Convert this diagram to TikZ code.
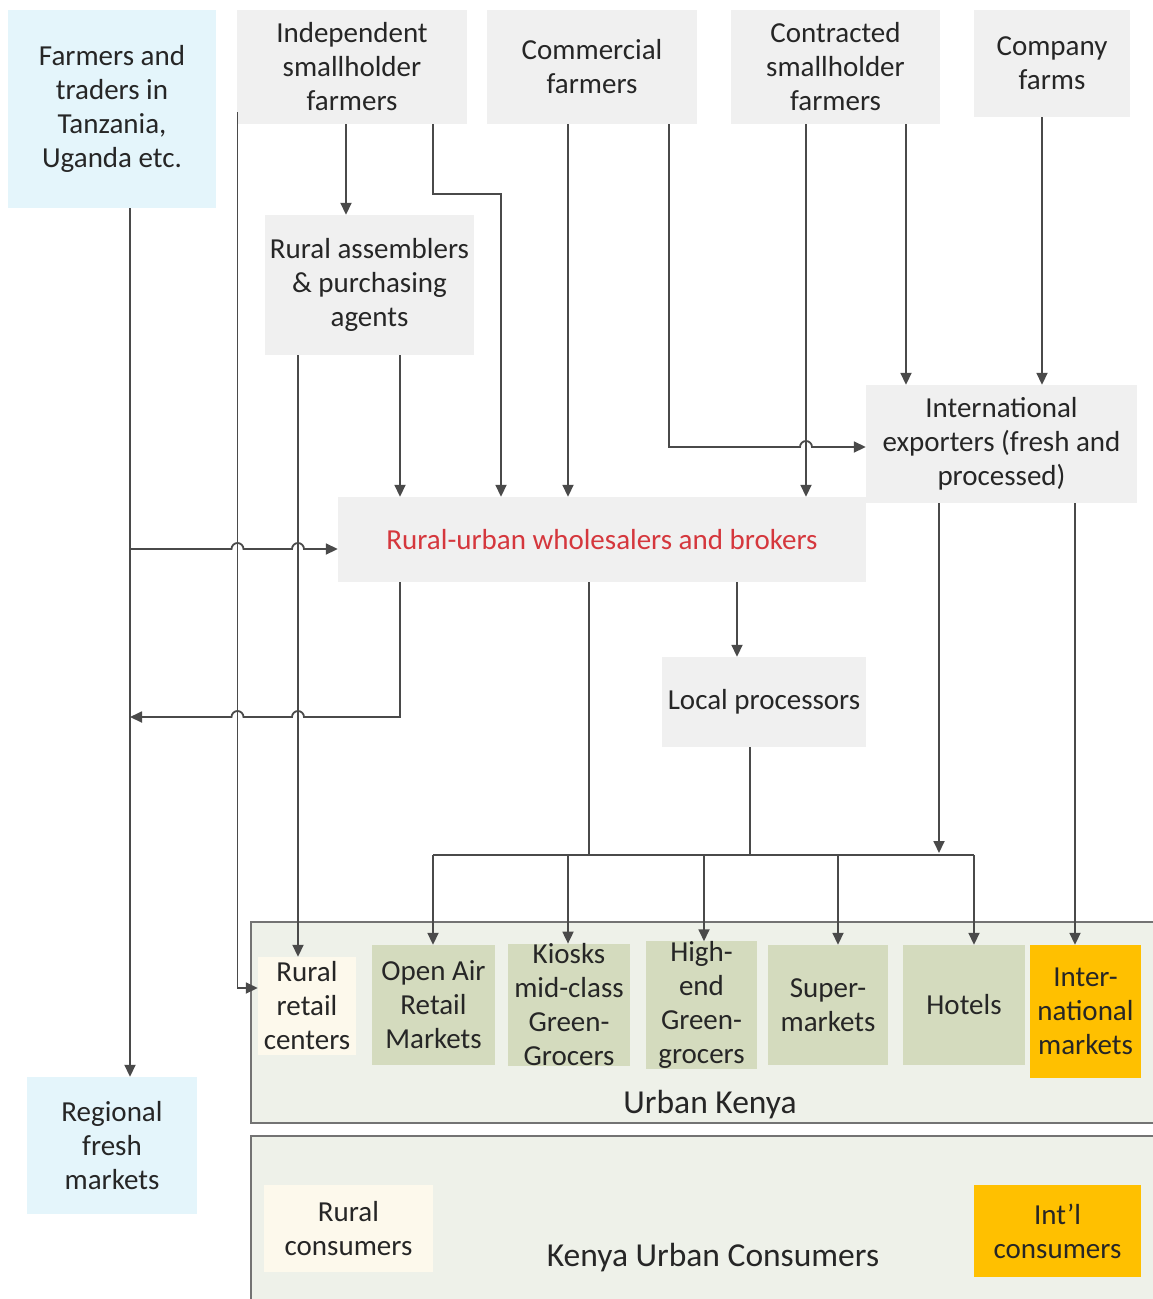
\documentclass[tikz,border=0pt]{standalone}
\usepackage{fontspec}
\setmainfont{Carlito}
\usetikzlibrary{arrows.meta}
\definecolor{boxgray}{HTML}{F0F0F0}
\definecolor{skyfill}{HTML}{E4F5FB}
\definecolor{olive}{HTML}{D4DBBE}
\definecolor{panel}{HTML}{EEF1E9}
\definecolor{cream}{HTML}{FDF9EC}
\definecolor{amber}{HTML}{FFC000}
\definecolor{ink}{HTML}{4A4A4A}
\definecolor{redtxt}{HTML}{D5373D}
\begin{document}
\begin{tikzpicture}[x=1pt,y=-1pt,>={Triangle[length=12pt,width=11pt]},
	every node/.style={align=center,inner sep=0pt,text=black!85,font=\fontsize{29}{34}\selectfont},
	gbox/.style={fill=boxgray},sbox/.style={fill=skyfill},obox/.style={fill=olive},
	cbox/.style={fill=cream},abox/.style={fill=amber},
	flow/.style={draw=ink,line width=1.8pt,->},link/.style={draw=ink,line width=1.8pt},
	panelbox/.style={fill=panel,draw=black!55,line width=1.4pt}]
	\useasboundingbox (0,0) rectangle (1153,1299);
	% panels
	\draw[panelbox] (251,922) rectangle (1165,1123);
	\draw[panelbox] (251,1136) rectangle (1165,1310);
	\node at (710,1105) {\fontsize{33.5}{38}\selectfont Urban Kenya};
	\node at (713,1258) {\fontsize{33.5}{38}\selectfont Kenya Urban Consumers};
	% producers
	\node[sbox,minimum width=208,minimum height=198] (tz) at (112,109) {Farmers and\\traders in\\Tanzania,\\Uganda etc.};
	\node[gbox,minimum width=230,minimum height=114] (ind) at (352,67) {Independent\\smallholder\\farmers};
	\node[gbox,minimum width=210,minimum height=114] (com) at (592,67) {Commercial\\farmers};
	\node[gbox,minimum width=209,minimum height=114] (con) at (835.5,67) {Contracted\\smallholder\\farmers};
	\node[gbox,minimum width=156,minimum height=107] (cf) at (1052,63.5) {Company\\farms};
	% intermediaries
	\node[gbox,minimum width=209,minimum height=140] (ra) at (369.5,285) {Rural assemblers\\\& purchasing\\agents};
	\node[gbox,minimum width=271,minimum height=118] (ie) at (1001.5,444) {International\\exporters (fresh and\\processed)};
	\node[gbox,minimum width=528,minimum height=85,text=redtxt] (wh) at (602,539.5) {Rural-urban wholesalers and brokers};
	\node[gbox,minimum width=204,minimum height=90] (lp) at (764,702) {Local processors};
	\node[sbox,minimum width=170,minimum height=137] (rf) at (112,1145.5) {Regional\\fresh\\markets};
	% outlets
	\node[cbox,minimum width=98,minimum height=98] (rrc) at (307,1006) {Rural\\retail\\centers};
	\node[obox,minimum width=123,minimum height=120] (oa) at (433.5,1005) {Open Air\\Retail\\Markets};
	\node[obox,minimum width=122,minimum height=120] (ki) at (569,1005) {Kiosks\\mid-class\\Green-\\Grocers};
	\node[obox,minimum width=111,minimum height=120] (he) at (701.5,1005) {High-\\end\\Green-\\grocers};
	\node[obox,minimum width=120,minimum height=120] (sm) at (828,1005) {Super-\\markets};
	\node[obox,minimum width=122,minimum height=120] (ho) at (964,1005) {Hotels};
	\node[abox,minimum width=111,minimum height=133] (im) at (1085.5,1011.5) {Inter-\\national\\markets};
	% consumers
	\node[cbox,minimum width=169,minimum height=87] (rc) at (348.5,1228.5) {Rural\\consumers};
	\node[abox,minimum width=167,minimum height=92] (ic) at (1057.5,1231) {Int’l\\consumers};
	% junctions
	\coordinate (tzin) at (130,549);
	\coordinate (tzout) at (130,717);
	\coordinate (bus) at (0,855);
	% connectors
	\draw[flow] (tz.south -| 130,0) -- (rf.north -| 130,0);
	\draw[flow] (tzin) -- (231.5,549) arc[start angle=180,end angle=0,radius=6pt] -- (292,549)
		arc[start angle=180,end angle=0,radius=6pt] -- (wh.west |- tzin);
	\draw[flow] (wh.south -| 400,0) -- (400,717) -- (304,717) arc[start angle=0,end angle=180,radius=6pt]
		-- (243.5,717) arc[start angle=0,end angle=180,radius=6pt] -- (tzout);
	\draw[flow] (237.5,112) -- (237.5,988) -- (rrc.west |- 0,988);
	\draw[flow] (ind.south -| 346,0) -- (ra.north -| 346,0);
	\draw[flow] (ind.south -| 433,0) -- (433,194) -- (501,194) -- (wh.north -| 501,0);
	\draw[flow] (ra.south -| 298,0) -- (rrc.north -| 298,0);
	\draw[flow] (ra.south -| 400,0) -- (wh.north -| 400,0);
	\draw[flow] (com.south -| 568,0) -- (wh.north -| 568,0);
	\draw[flow] (com.south -| 669,0) -- (669,447) -- (800,447) arc[start angle=180,end angle=0,radius=6pt]
		-- (ie.west |- 0,447);
	\draw[flow] (con.south -| 806,0) -- (wh.north -| 806,0);
	\draw[flow] (con.south -| 906,0) -- (ie.north -| 906,0);
	\draw[flow] (cf.south -| 1042,0) -- (ie.north -| 1042,0);
	\draw[flow] (wh.south -| 737,0) -- (lp.north -| 737,0);
	\draw[link] (wh.south -| 589,0) -- (bus -| 589,0);
	\draw[link] (lp.south -| 750,0) -- (bus -| 750,0);
	\draw[link] (bus -| 433,0) -- (bus -| 974,0);
	\draw[flow] (ie.south -| 939,0) -- (939,853);
	\draw[flow] (ie.south -| 1075,0) -- (im.north -| 1075,0);
	\foreach \t/\x in {oa/433,ki/568,he/704,sm/838,ho/974}
		\draw[flow] (bus -| \x,0) -- (\t.north -| \x,0);
\end{tikzpicture}
\end{document}
